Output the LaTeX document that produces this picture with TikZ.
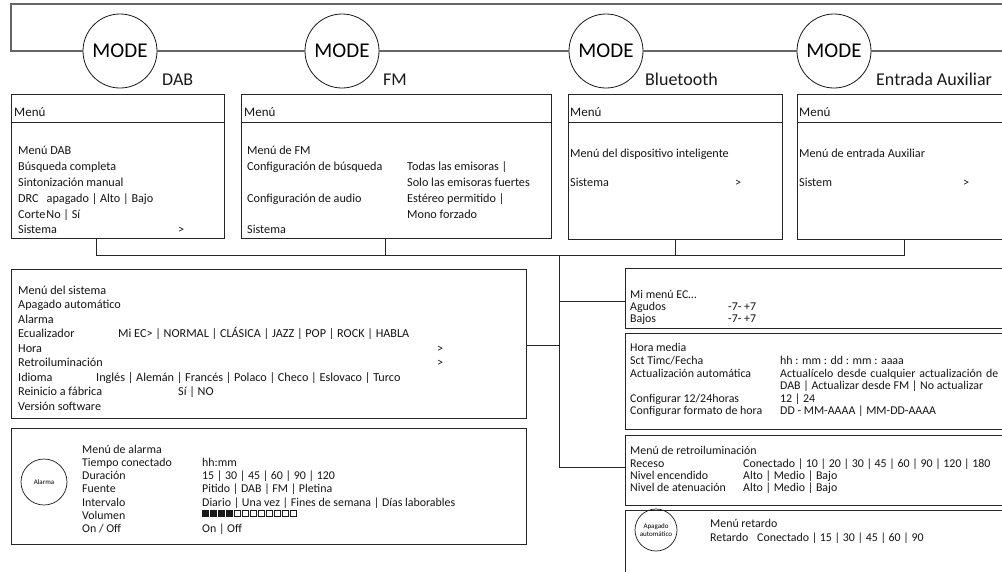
\documentclass[tikz,border=0pt]{standalone}
\usepackage{fontspec}
\setmainfont{Carlito}
\tikzset{
  box/.style={draw=black!85, line width=0.9pt, rectangle, inner sep=0pt, anchor=north west},
  conn/.style={draw=black!85, line width=0.9pt},
  loopline/.style={draw=black!60, line width=1.4pt},
  modecirc/.style={circle, draw=black!90, line width=0.8pt, fill=white, minimum size=74pt, inner sep=0pt, font=\fontsize{21}{21}\selectfont},
  modelbl/.style={anchor=base west, inner sep=0pt, font=\fontsize{18}{18}\selectfont, text=black!90},
  hdr/.style={anchor=base west, inner sep=0pt, font=\fontsize{13}{14}\selectfont, text=black!92},
  txt/.style={anchor=base west, inner sep=0pt, font=\fontsize{12.2}{14}\selectfont, text=black!92},
  stxt/.style={anchor=base west, inner sep=0pt, font=\fontsize{11.9}{13}\selectfont, text=black!92},
  tiny/.style={circle, draw=black!90, line width=0.7pt, inner sep=0pt, align=center, font=\fontsize{7}{8.5}\selectfont},
}
\newcommand\Tx[5][txt]{\node[#1] (#2) at (#3,#4) {#5};}
\begin{document}
\begin{tikzpicture}[x=1pt,y=-1pt]
\useasboundingbox (0,0) rectangle (1002,571);
\clip (0,0) rectangle (1002,571);
% ---------- top loop with MODE circles
\node[modecirc] (m1) at (120,51) {MODE};
\node[modecirc] (m2) at (342,51) {MODE};
\node[modecirc] (m3) at (606,51) {MODE};
\node[modecirc] (m4) at (834,51) {MODE};
\coordinate (lR1) at (1010,4);
\coordinate (lL1) at (11,4);
\coordinate (lL2) at (11,51);
\coordinate (lR2) at (1010,51);
\draw[loopline] (lR1) -- (lL1) -- (lL2) -- (m1.west);
\draw[loopline] (m1.east) -- (m2.west);
\draw[loopline] (m2.east) -- (m3.west);
\draw[loopline] (m3.east) -- (m4.west);
\draw[loopline] (m4.east) -- (lR2);
\node[modelbl] (l1) at (162,85) {DAB};
\node[modelbl] (l2) at (383,85) {FM};
\node[modelbl] (l3) at (645,85) {Bluetooth};
\node[modelbl] (l4) at (876,85) {Entrada Auxiliar};
% ---------- mode menu boxes
\node[box, minimum width=213pt, minimum height=144pt] (dab) at (11,94) {};
\node[box, minimum width=310pt, minimum height=144pt] (fm) at (241,94) {};
\node[box, minimum width=214pt, minimum height=145pt] (bt) at (568,94) {};
\node[box, minimum width=220pt, minimum height=145pt] (aux) at (797,94) {};
\foreach \b in {dab,fm,bt,aux}{
  \draw[conn] (\b.north west |- 0,122) -- (\b.north east |- 0,122);
}
\Tx[hdr]{h1}{14}{116}{Menú}
\Tx[hdr]{h2}{244}{116}{Menú}
\Tx[hdr]{h3}{570}{116}{Menú}
\Tx[hdr]{h4}{799}{116}{Menú}
% DAB
\Tx{d1}{18}{154}{Menú DAB}
\Tx{d2}{18}{170}{Búsqueda completa}
\Tx{d3}{18}{186}{Sintonización manual}
\Tx{d4}{18}{202}{DRC\hspace{8pt}apagado | Alto | Bajo}
\Tx{d5}{18}{218}{Corte\hspace{1pt}No | Sí}
\Tx{d6}{18}{233}{Sistema}
\Tx{d7}{178}{233}{>}
% FM
\Tx{f1}{247}{154}{Menú de FM}
\Tx{f2}{247}{170}{Configuración de búsqueda}
\Tx{f3}{407}{170}{Todas las emisoras |}
\Tx{f4}{407}{186}{Solo las emisoras fuertes}
\Tx{f5}{247}{202}{Configuración de audio}
\Tx{f6}{407}{202}{Estéreo permitido |}
\Tx{f7}{407}{218}{Mono forzado}
\Tx{f8}{247}{233}{Sistema}
% Bluetooth
\Tx{b1}{570}{157}{Menú del dispositivo inteligente}
\Tx{b2}{570}{186}{Sistema}
\Tx{b3}{735}{186}{>}
% Aux
\Tx{a1}{799}{157}{Menú de entrada Auxiliar}
\Tx{a2}{799}{186}{Sistem}
\Tx{a3}{963}{186}{>}
% ---------- bus
\coordinate (bL) at (96,255);
\coordinate (bF) at (385,255);
\coordinate (bT) at (559,255);
\coordinate (bB) at (675,255);
\coordinate (bR) at (904,255);
\draw[conn] (dab.south -| bL) -- (bL) -- (bR) -- (aux.south -| bR);
\draw[conn] (fm.south -| bF) -- (bF);
\draw[conn] (bt.south -| bB) -- (bB);
% ---------- system box
\node[box, minimum width=515pt, minimum height=149pt] (sys) at (11,269) {};
\Tx{s1}{18}{294}{Menú del sistema}
\Tx{s2}{18}{308.5}{Apagado automático}
\Tx{s3}{18}{323}{Alarma}
\Tx{s4}{18}{337.5}{Ecualizador}
\Tx{s4b}{118}{337.5}{Mi EC> | NORMAL | CLÁSICA | JAZZ | POP | ROCK | HABLA}
\Tx{s5}{18}{352}{Hora}
\Tx{s5b}{437}{352}{>}
\Tx{s6}{18}{366.5}{Retroiluminación}
\Tx{s6b}{437}{366.5}{>}
\Tx{s7}{18}{381}{Idioma}
\Tx{s7b}{96}{381}{Inglés | Alemán | Francés | Polaco | Checo | Eslovaco | Turco}
\Tx{s8}{18}{395.5}{Reinicio a fábrica}
\Tx{s8b}{178}{395.5}{Sí | NO}
\Tx{s9}{18}{410}{Versión software}
% ---------- alarm box
\node[box, minimum width=515pt, minimum height=116pt] (alm) at (11,428) {};
\node[tiny, minimum size=46pt] (almc) at (44,482) {Alarma};
\Tx[stxt]{al1}{82}{453}{Menú de alarma}
\Tx[stxt]{al2}{82}{466.3}{Tiempo conectado}
\Tx[stxt]{al2b}{202}{466.3}{hh:mm}
\Tx[stxt]{al3}{82}{479.6}{Duración}
\Tx[stxt]{al3b}{202}{479.6}{15 | 30 | 45 | 60 | 90 | 120}
\Tx[stxt]{al4}{82}{492.9}{Fuente}
\Tx[stxt]{al4b}{202}{492.9}{Pitido | DAB | FM | Pletina}
\Tx[stxt]{al5}{82}{506.2}{Intervalo}
\Tx[stxt]{al5b}{202}{506.2}{Diario | Una vez | Fines de semana | Días laborables}
\Tx[stxt]{al6}{82}{519.5}{Volumen}
\Tx[stxt]{al7}{82}{532.8}{On / Off}
\Tx[stxt]{al7b}{202}{532.8}{On | Off}
\foreach \i in {0,...,11}{
  \ifnum\i<4
    \fill[black!90] (202+\i*8,510) rectangle ++(6.5,6.5);
  \else
    \draw[black!90, line width=0.6pt] (202.3+\i*8,510.3) rectangle ++(5.9,5.9);
  \fi
}
% ---------- trunk
\coordinate (tS) at (559,345);
\coordinate (tE) at (559,301);
\coordinate (tB) at (559,467);
\draw[conn] (bT) -- (tB);
\draw[conn] (tS) -- (tS -| sys.east);
% ---------- right boxes
\node[box, minimum width=390pt, minimum height=60pt] (ec) at (625,268) {};
\node[box, minimum width=390pt, minimum height=96pt] (hora) at (625,333) {};
\node[box, minimum width=390pt, minimum height=70pt] (retro) at (625,435) {};
\node[box, minimum width=390pt, minimum height=70pt] (apag) at (625,510) {};
\draw[conn] (tE) -- (tE -| ec.west);
\draw[conn] (tB) -- (tB -| retro.west);
% EC
\Tx[stxt]{e1}{630}{298}{Mi menú EC…}
\Tx[stxt]{e2}{630}{310}{Agudos}
\Tx[stxt]{e2b}{728}{310}{-7- +7}
\Tx[stxt]{e3}{630}{322}{Bajos}
\Tx[stxt]{e3b}{728}{322}{-7- +7}
% Hora
\Tx[stxt]{o1}{630}{351}{Hora media}
\Tx[stxt]{o2}{630}{364}{Sct Timc/Fecha}
\Tx[stxt]{o2b}{780}{364}{hh : mm : dd : mm : aaaa}
\Tx[stxt]{o3}{630}{377}{Actualización automática}
\Tx[stxt]{o3b}{780}{377}{Actualícelo\hspace{4pt}desde\hspace{4pt}cualquier\hspace{4pt}actualización\hspace{4pt}de}
\Tx[stxt]{o4}{780}{389}{DAB | Actualizar desde FM | No actualizar}
\Tx[stxt]{o5}{630}{402}{Configurar 12/24horas}
\Tx[stxt]{o5b}{780}{402}{12 | 24}
\Tx[stxt]{o6}{630}{414}{Configurar formato de hora}
\Tx[stxt]{o6b}{780}{414}{DD - MM-AAAA | MM-DD-AAAA}
% Retro
\Tx[stxt]{r1}{630}{454}{Menú de retroiluminación}
\Tx[stxt]{r2}{630}{467}{Receso}
\Tx[stxt]{r2b}{743}{467}{Conectado | 10 | 20 | 30 | 45 | 60 | 90 | 120 | 180}
\Tx[stxt]{r3}{630}{479}{Nivel encendido}
\Tx[stxt]{r3b}{743}{479}{Alto | Medio | Bajo}
\Tx[stxt]{r4}{630}{491}{Nivel de atenuación}
\Tx[stxt]{r4b}{743}{491}{Alto | Medio | Bajo}
% Apagado
\node[tiny, minimum size=42pt] (apc) at (656,530) {Apagado\\automático};
\Tx[stxt]{p1}{710}{527}{Menú retardo}
\Tx[stxt]{p2}{710}{541}{Retardo}
\Tx[stxt]{p2b}{757}{541}{Conectado | 15 | 30 | 45 | 60 | 90}
\end{tikzpicture}
\end{document}
